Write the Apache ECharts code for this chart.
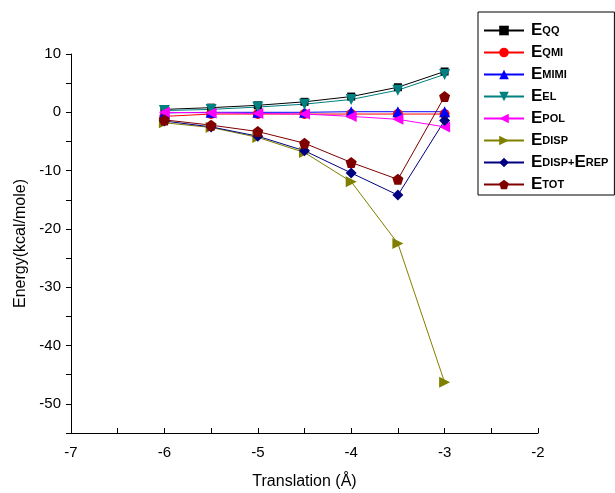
<!DOCTYPE html>
<html><head><meta charset="utf-8">
<script src="https://cdn.jsdelivr.net/npm/echarts@6/dist/echarts.min.js"></script>
<style>html,body{margin:0;padding:0;background:#fff}#c{width:615px;height:493px}</style>
</head><body><div id="c"></div>
<script>
const translation = [-6, -5.5, -5, -4.5, -4, -3.5, -3];
const EQQ      = [0.5, 0.8, 1.2, 1.8, 2.7, 4.3, 7.0];
const EQMI     = [-0.7, -0.3, -0.3, -0.3, -0.3, -0.3, -0.3];
const EMIMI    = [-0.1, 0.0, 0.0, 0.0, 0.1, 0.1, 0.1];
const EEL      = [0.3, 0.5, 0.9, 1.4, 2.2, 3.8, 6.5];
const EPOL     = [0.0, -0.1, -0.2, -0.3, -0.7, -1.2, -2.5];
const EDISP    = [-1.8, -2.6, -4.3, -6.9, -11.9, -22.5, -46.3];
const EDISPREP = [-1.5, -2.5, -4.1, -6.6, -10.4, -14.2, -1.4];
const ETOT     = [-1.3, -2.2, -3.3, -5.3, -8.6, -11.5, 2.7];
const yTickLabels = [-50, -40, -30, -20, -10, 0, 10];
const yTicks = [-55, -50, -45, -40, -35, -30, -25, -20, -15, -10, -5, 0, 5, 10];

const pentagon = 'path://M0,-10 L9.51,-3.09 L5.88,8.09 L-5.88,8.09 L-9.51,-3.09 Z';
const seriesDefs = [
  {name:'EQQ', data:EQQ, color:'#000000', symbol:'rect', rot:0, size:8},
  {name:'EQMI', data:EQMI, color:'#ff0000', symbol:'circle', rot:0, size:10},
  {name:'EMIMI', data:EMIMI, color:'#0000ff', symbol:'triangle', rot:0, size:11},
  {name:'EEL', data:EEL, color:'#008080', symbol:'triangle', rot:180, size:11},
  {name:'EPOL', data:EPOL, color:'#ff00ff', symbol:'triangle', rot:90, size:11},
  {name:'EDISP', data:EDISP, color:'#808000', symbol:'triangle', rot:-90, size:11},
  {name:'EDISP+EREP', data:EDISPREP, color:'#000080', symbol:'diamond', rot:0, size:11},
  {name:'ETOT', data:ETOT, color:'#800000', symbol:pentagon, rot:0, size:11}
];
const labelRich = {
  'EQQ': '{a|E}{b|QQ}', 'EQMI': '{a|E}{b|QMI}', 'EMIMI': '{a|E}{b|MIMI}', 'EEL': '{a|E}{b|EL}',
  'EPOL': '{a|E}{b|POL}', 'EDISP': '{a|E}{b|DISP}', 'EDISP+EREP': '{a|E}{b|DISP+}{a|E}{b|REP}', 'ETOT': '{a|E}{b|TOT}'
};
const chart = echarts.init(document.getElementById('c'), null, {renderer:'canvas'});
chart.setOption({
  animation:false,
  backgroundColor:'#fff',
  grid:{left:71, right:77, top:54, bottom:60, outerBoundsMode:'none', containLabel:false},
  xAxis:{type:'value', min:-7, max:-2, interval:1,
    name:'Translation (Å)', nameLocation:'middle', nameGap:41,
    nameTextStyle:{fontFamily:'Liberation Sans', fontSize:16, color:'#000'},
    axisLine:{onZero:false, lineStyle:{color:'#000', width:1}},
    axisTick:{inside:true, length:5, lineStyle:{color:'#000'}},
    minorTick:{show:true, splitNumber:2, length:5, lineStyle:{color:'#000'}},
    axisLabel:{fontFamily:'Liberation Sans', fontSize:15, color:'#000', margin:12},
    splitLine:{show:false}},
  yAxis:{type:'value', min:-55, max:10,
    name:'Energy(kcal/mole)', nameLocation:'middle', nameGap:39,
    nameTextStyle:{fontFamily:'Liberation Sans', fontSize:16, color:'#000'},
    axisLine:{onZero:false, lineStyle:{color:'#000', width:1}},
    axisTick:{inside:false, length:5, customValues:yTicks, lineStyle:{color:'#000'}},
    axisLabel:{fontFamily:'Liberation Sans', fontSize:15, color:'#000', margin:10, customValues:yTickLabels},
    splitLine:{show:false}},
  legend:{orient:'vertical', left:478, top:12, width:140,
    padding:[10, 6, 2, 5], itemGap:5, itemWidth:40, itemHeight:12,
    borderColor:'#000', borderWidth:1, backgroundColor:'#fff',
    data:seriesDefs.map(s=>s.name),
    formatter:(n)=>labelRich[n],
    textStyle:{padding:[0,0,0,2], rich:{
      a:{fontFamily:'Liberation Sans', fontWeight:'bold', fontSize:17, lineHeight:17, color:'#000'},
      b:{fontFamily:'Liberation Sans', fontWeight:'bold', fontSize:11, lineHeight:17, color:'#000'}
    }}},
  series: seriesDefs.map(s=>({
    name:s.name, type:'line',
    data:translation.map((x,i)=>[x, s.data[i]]),
    symbol:s.symbol, symbolRotate:s.rot, symbolSize:s.size, showAllSymbol:true,
    color:s.color,
    lineStyle:{color:s.color, width:1},
    itemStyle:{color:s.color, borderWidth:0}
  }))
});
</script></body></html>
